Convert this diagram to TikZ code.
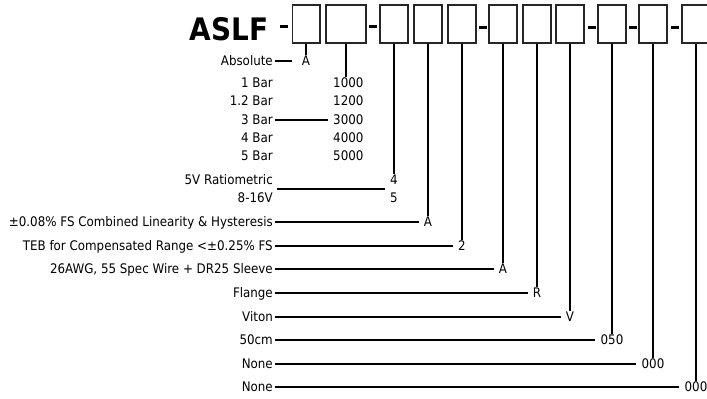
\documentclass[tikz,border=0pt]{standalone}
\usepackage{fontspec}
\setmainfont{DejaVu Sans Condensed}
\begin{document}
\begin{tikzpicture}[
  x=1pt, y=-1pt,
  font=\fontsize{13.2}{15}\selectfont,
  digit/.style={draw=black!85, line width=1.8pt, minimum height=38.2pt, inner sep=0pt},
  sep/.style={fill=black, minimum width=8pt, minimum height=3pt, inner sep=0pt},
  lab/.style={anchor=east, inner xsep=2pt, inner ysep=0pt, text height=9.6pt, text depth=0pt},
  code/.style={inner xsep=5pt, inner ysep=1pt, text height=9.6pt, text depth=0pt},
  lnk/.style={line width=2pt, black}
]
  \useasboundingbox (0,0) rectangle (707,399);
  %% --- Part number : title, boxes and separators ---
  \node[anchor=base east, inner sep=0pt, font=\fontsize{31}{36}\selectfont\bfseries] (title) at (268.5,40) {ASLF};
  \node[sep] (d0) at (284,26.5) {};
  \node[digit, minimum width=27.2pt] (b1) at (306,24) {};
  \node[digit, minimum width=40.2pt] (b2) at (346,24) {};
  \node[sep] (d1) at (373,26.5) {};
  \node[digit, minimum width=28pt] (b3) at (394,24) {};
  \node[digit, minimum width=28pt] (b4) at (428,24) {};
  \node[digit, minimum width=28pt] (b5) at (462,24) {};
  \node[sep] (d2) at (482.5,27) {};
  \node[digit, minimum width=28pt] (b6) at (503,24) {};
  \node[digit, minimum width=28pt] (b7) at (537,24) {};
  \node[digit, minimum width=28pt] (b8) at (570,24) {};
  \node[sep] (d3) at (591.5,27) {};
  \node[digit, minimum width=28pt] (b9) at (612,24) {};
  \node[sep] (d4) at (633,27) {};
  \node[digit, minimum width=28pt] (b10) at (653,24) {};
  \node[sep] (d5) at (675,27) {};
  \node[digit, minimum width=28pt] (b11) at (696,24) {};
  %% --- Option labels ---
  \node[lab] (labs)  at (275,61)  {Absolute};
  \node[lab] (l1)    at (275,83)  {1 Bar};
  \node[lab] (l12)   at (275,101) {1.2 Bar};
  \node[lab] (l3)    at (275,120) {3 Bar};
  \node[lab] (l4)    at (275,138) {4 Bar};
  \node[lab] (l5)    at (275,156) {5 Bar};
  \node[lab] (lrat)  at (275,180) {5V Ratiometric};
  \node[lab] (lvolt) at (275,198) {8-16V};
  \node[lab] (llin)  at (275,222) {±0.08\% FS Combined Linearity \& Hysteresis};
  \node[lab] (lteb)  at (275,246) {TEB for Compensated Range <±0.25\% FS};
  \node[lab] (lwire) at (275,269) {26AWG, 55 Spec Wire + DR25 Sleeve};
  \node[lab] (lfl)   at (275,293) {Flange};
  \node[lab] (lvit)  at (275,317) {Viton};
  \node[lab] (llen)  at (275,340) {50cm};
  \node[lab] (lop1)  at (275,364) {None};
  \node[lab] (lop2)  at (275,387) {None};
  %% --- Option codes ---
  \node[code] (cabs) at (306,61) {A};
  \node[code, anchor=west] (c1000) at (328,83)  {1000};
  \node[code, anchor=west] (c1200) at (328,101) {1200};
  \node[code, anchor=west] (c3000) at (328,120) {3000};
  \node[code, anchor=west] (c4000) at (328,138) {4000};
  \node[code, anchor=west] (c5000) at (328,156) {5000};
  \node[code] (c4)    at (394,180) {4};
  \node[code] (c5)    at (394,198) {5};
  \node[code] (clin)  at (428,222) {A};
  \node[code] (cteb)  at (462,246) {2};
  \node[code] (cwire) at (503,269) {A};
  \node[code] (cfl)   at (537,293) {R};
  \node[code] (cvit)  at (570,317) {V};
  \node[code] (clen)  at (612,340) {050};
  \node[code] (cop1)  at (653,364) {000};
  \node[code] (cop2)  at (696,387) {000};
  \coordinate (vsel) at (277,189);
  %% --- Box to code leaders ---
  \draw[lnk] (b1.south) -- (cabs.north);
  \draw[lnk] (b2.south) -- (b2.south |- c1000.north);
  \draw[lnk] (b3.south) -- (c4.north);
  \draw[lnk] (b4.south) -- (clin.north);
  \draw[lnk] (b5.south) -- (cteb.north);
  \draw[lnk] (b6.south) -- (cwire.north);
  \draw[lnk] (b7.south) -- (cfl.north);
  \draw[lnk] (b8.south) -- (cvit.north);
  \draw[lnk] (b9.south) -- (clen.north);
  \draw[lnk] (b10.south) -- (cop1.north);
  \draw[lnk] (b11.south) -- (cop2.north);
  %% --- Label to code leaders ---
  \draw[lnk, shorten >=5pt] (labs.east) -- (cabs.west);
  \draw[lnk] (l3.east) -- (c3000.west);
  \draw[lnk] (vsel) -- (vsel -| c4.west);
  \draw[lnk] (llin.east) -- (clin.west);
  \draw[lnk] (lteb.east) -- (cteb.west);
  \draw[lnk] (lwire.east) -- (cwire.west);
  \draw[lnk] (lfl.east) -- (cfl.west);
  \draw[lnk] (lvit.east) -- (cvit.west);
  \draw[lnk] (llen.east) -- (clen.west);
  \draw[lnk] (lop1.east) -- (cop1.west);
  \draw[lnk] (lop2.east) -- (cop2.west);
\end{tikzpicture}
\end{document}
